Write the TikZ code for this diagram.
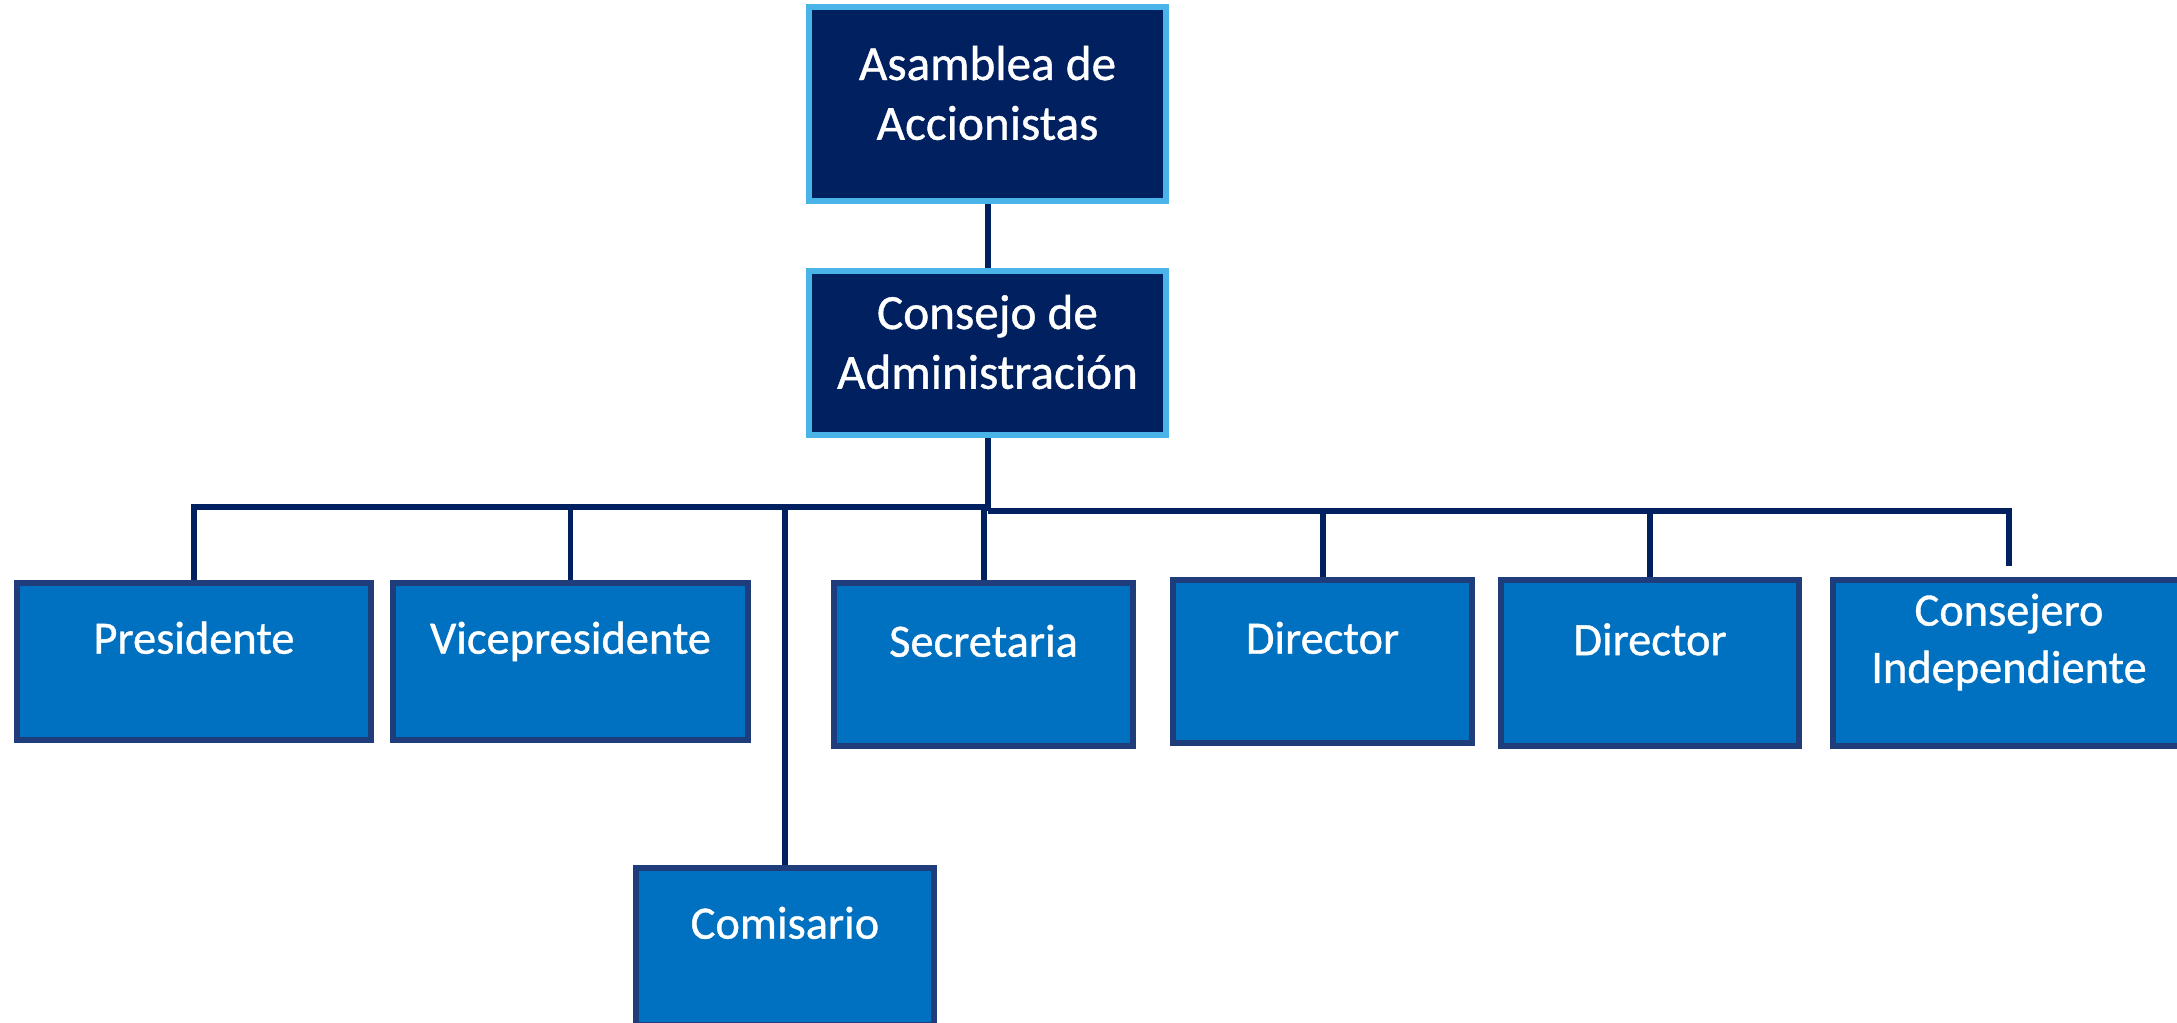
\documentclass[tikz,border=0pt]{standalone}
\usepackage{fontspec}
\setmainfont{Carlito}[FakeBold=0.8]
\definecolor{navy}{HTML}{002060}
\definecolor{skyedge}{HTML}{4AB3E8}
\definecolor{boxblue}{HTML}{0070C0}
\definecolor{boxedge}{HTML}{1F3D7A}
\begin{document}
\begin{tikzpicture}
        [toplvl/.style={rectangle, fill=navy, draw=skyedge, line width=1.6pt,
                        minimum width=3.57cm},
        lowlvl/.style={rectangle, fill=boxblue, draw=boxedge, line width=1.6pt},
        toptxt/.style={text=white, align=center, yshift=0.11cm,
                       font=\fontsize{14}{17}\selectfont},
        lowtxt/.style={text=white, align=center, yshift=0.21cm,
                       font=\fontsize{13.2}{16.3}\selectfont},
        oneline/.style={lowtxt, yshift=-0.05cm, text height=1.5ex, text depth=.25em},
        link/.style={draw=navy, line width=1.7pt}]
        \useasboundingbox (0,0) rectangle (21.77,-10.22);
        % top of the chart
        \node[toplvl, minimum height=1.94cm,
              label={[toptxt,name=asm-t]center:Asamblea de\\Accionistas}] (asm) at (9.875,-1.04) {};
        \node[toplvl, minimum height=1.64cm,
              label={[toptxt,name=cda-t]center:Consejo de\\Administración}] (cda) at (9.875,-3.53) {};
        % second level
        \node[lowlvl, minimum width=3.54cm, minimum height=1.57cm,
              label={[oneline,name=pres-t]center:Presidente}] (pres) at (1.94,-6.615) {};
        \node[lowlvl, minimum width=3.55cm, minimum height=1.57cm,
              label={[oneline,name=vice-t]center:Vicepresidente}] (vice) at (5.705,-6.615) {};
        \node[lowlvl, minimum width=2.99cm, minimum height=1.63cm,
              label={[oneline,name=secr-t]center:Secretaria}] (secr) at (9.835,-6.645) {};
        \node[lowlvl, minimum width=2.99cm, minimum height=1.63cm,
              label={[oneline,name=dir1-t]center:Director}] (dir1) at (13.225,-6.615) {};
        \node[lowlvl, minimum width=2.98cm, minimum height=1.66cm,
              label={[oneline,name=dir2-t]center:Director}] (dir2) at (16.50,-6.63) {};
        \node[lowlvl, minimum width=3.52cm, minimum height=1.66cm,
              label={[lowtxt,name=cons-t]center:Consejero\\Independiente}] (cons) at (20.09,-6.63) {};
        \node[lowlvl, minimum width=2.98cm, minimum height=1.57cm,
              label={[oneline,name=comi-t]center:Comisario}] (comi) at (7.85,-9.465) {};
        % bus lines
        \coordinate (busL) at (9.875,-5.07);
        \coordinate (busR) at (9.875,-5.11);
        \draw[link] (asm) -- (cda);
        \draw[link] (cda) -- (busR);
        \draw[link] (busL) -| (pres.north);
        \foreach \b in {vice,comi,secr}
            \draw[link] (busL -| \b.north) -- (\b.north);
        \draw[link] (busR) -| ([yshift=0.11cm]cons.north);
        \foreach \b in {dir1,dir2}
            \draw[link] (busR -| \b.north) -- (\b.north);
\end{tikzpicture}
\end{document}
